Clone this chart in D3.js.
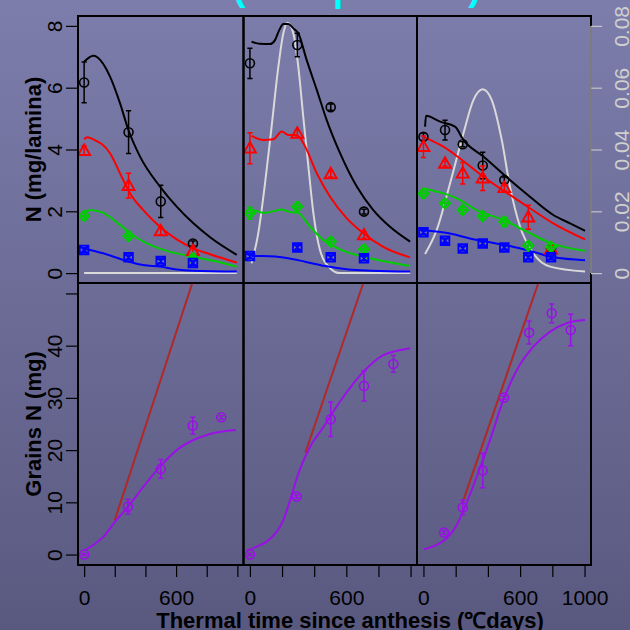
<!DOCTYPE html>
<html>
<head>
<meta charset="utf-8">
<script src="https://cdn.jsdelivr.net/npm/d3@7"></script>
<style>
  body { margin: 0; }
  svg { display: block; font-family: "Liberation Sans", Arial, sans-serif; }
</style>
</head>
<body>
<div class="container"></div>
<script>
// ---- axis ticks ----
const xTicks = [0, 200, 400, 600, 800, 1000];
const xTickLabels = [[0, 600], [0, 600], [0, 600, 1000]];
const nTicks = [0, 2, 4, 6, 8];
const grainTicks = [0, 10, 20, 30, 40, 50];
const grainTickLabels = [0, 10, 20, 30, 40];
const rateTicks = [0, 0.02, 0.04, 0.06, 0.08];

// ---- top row: observed N per lamina (mean, error) ----
const topTimeA = [0, 290, 500, 710];
const lam1A = [6.17, 4.56, 2.32, 0.96], lam1ErrA = [0.66, 0.69, 0.52, 0.08];
const lam2A = [3.96, 2.83, 1.36, 0.72], lam2ErrA = [0.15, 0.4, 0.12, 0.1];
const lam3A = [1.85, 1.2, null, 0.49], lam3ErrA = [0.12, 0.12, null, 0.08];
const lam4A = [0.75, 0.51, 0.39, 0.33], lam4ErrA = [0.08, 0.08, 0.08, 0.08];

const topTimeB = [0, 295, 503, 710];
const lam1B = [6.79, 7.38, 5.37, 1.99], lam1ErrB = [0.49, 0.38, 0.1, 0.08];
const lam2B = [4.04, 4.52, 3.21, 1.23], lam2ErrB = [0.5, 0.12, 0.1, 0.1];
const lam3B = [1.94, 2.15, 1.02, 0.77], lam3ErrB = [0.2, 0.15, 0.1, 0.1];
const lam4B = [0.55, 0.83, 0.51, 0.48], lam4ErrB = [0.08, 0.1, 0.08, 0.08];

const topTimeC = [0, 134, 244, 368, 502, 651, 792];
const lam1C = [4.41, 4.63, 4.17, 3.48, 3.01, null, 0.8], lam1ErrC = [0.12, 0.32, 0.08, 0.43, 0.1, null, 0.08];
const lam2C = [4.09, 3.55, 3.23, 3.07, 2.76, 1.81, 0.77], lam2ErrC = [0.35, 0.08, 0.35, 0.4, 0.1, 0.39, 0.08];
const lam3C = [2.58, 2.26, 2.04, 1.85, 1.66, 0.89, 0.85], lam3ErrC = [0.15, 0.12, 0.12, 0.12, 0.15, 0.1, 0.1];
const lam4C = [1.32, 1.05, 0.8, 0.96, 0.83, 0.51, 0.51], lam4ErrC = [0.08, 0.08, 0.08, 0.08, 0.08, 0.08, 0.08];

// ---- top row: simulated curves [time, N] ----
const fit1A = [[0, 6.84], [60, 7.03], [169, 6.36], [234, 5.5], [289, 4.63], [365, 3.77], [495, 2.8], [604, 2.15], [713, 1.61], [822, 1.16], [996, 0.59]];
const fit2A = [[0, 4.33], [20, 4.4], [60, 4.33], [169, 3.88], [245, 3.12], [300, 2.58], [386, 2.04], [495, 1.5], [604, 1.09], [713, 0.8], [822, 0.61], [996, 0.34]];
const fit3A = [[0, 1.94], [38, 2.04], [125, 1.95], [234, 1.56], [300, 1.29], [409, 0.96], [539, 0.72], [713, 0.53], [843, 0.4], [996, 0.21]];
const fit4A = [[0, 0.8], [125, 0.64], [278, 0.39], [386, 0.26], [495, 0.21], [604, 0.12], [713, 0.08], [996, 0.05]];
const rateA = [[0, 0], [500, 0], [996, 0]];

const fit1B = [[10, 7.49], [60, 7.42], [125, 7.41], [156, 7.54], [183, 7.87], [208, 8.06], [239, 8.06], [270, 7.92], [301, 7.76], [353, 6.9], [416, 5.93], [478, 4.95], [561, 3.88], [665, 2.8], [768, 2.04], [872, 1.5], [997, 1.02]];
const fit2B = [[10, 4.44], [84, 4.31], [146, 4.33], [198, 4.58], [239, 4.47], [291, 4.47], [333, 4.2], [416, 3.23], [499, 2.47], [603, 1.77], [706, 1.29], [830, 0.85], [997, 0.51]];
const fit3B = [[10, 2.06], [93, 1.95], [198, 2.06], [239, 1.99], [301, 1.94], [374, 1.5], [457, 1.07], [561, 0.77], [706, 0.53], [851, 0.37], [997, 0.23]];
const fit4B = [[10, 0.55], [84, 0.55], [239, 0.48], [343, 0.37], [468, 0.23], [613, 0.12], [758, 0.08], [997, 0.05]];
const rateB = [[10, 0.0032], [52, 0.0129], [94, 0.029], [135, 0.0474], [177, 0.0668], [208, 0.0776], [235, 0.081], [270, 0.0776], [301, 0.0668], [332, 0.0506], [364, 0.0344], [395, 0.0194], [436, 0.0075], [499, 0.0016], [561, 0], [997, 0]];

const fit1C = [[10, 4.74], [16, 5.09], [103, 4.9], [196, 4.74], [248, 4.31], [372, 3.77], [537, 3.01], [661, 2.47], [806, 1.88], [910, 1.61], [1003, 1.37]];
const fit2C = [[0, 4.41], [124, 4.09], [227, 3.71], [372, 3.12], [537, 2.53], [661, 2.1], [806, 1.61], [1003, 1.09]];
const fit3C = [[0, 2.74], [124, 2.58], [207, 2.42], [331, 2.04], [496, 1.72], [641, 1.34], [786, 0.98], [1003, 0.72]];
const fit4C = [[0, 1.39], [158, 1.29], [282, 1.13], [386, 1.02], [537, 0.88], [682, 0.69], [806, 0.51], [1003, 0.42]];
const rateC = [[10, 0.0062], [82, 0.0139], [165, 0.029], [248, 0.0452], [310, 0.056], [368, 0.0595], [424, 0.056], [486, 0.0431], [537, 0.028], [600, 0.015], [682, 0.0064], [786, 0.0021], [1003, 0.0005]];

// ---- bottom row: grains N ----
const grainTimeA = [0, 286, 500, 709, 895];
const grainA = [0, 9.17, 16.4, 24.7, 26.3], grainErrA = [0.2, 1.4, 1.8, 1.6, 0.3];
const grainTimeB = [0, 291, 503, 710, 893];
const grainB = [0, 11.1, 25.9, 32.3, 36.5], grainErrB = [0.2, 0.3, 3.3, 2.9, 1.6];
const grainTimeC = [128, 244, 368, 500, 656, 796, 914];
const grainC = [4.2, 9.0, 16.1, 30.05, 42.5, 46.2, 43.0], grainErrC = [0.3, 1.4, 3.3, 0.3, 2.2, 1.8, 3.0];

const grainFitA = [[0, 0.8], [60, 1.84], [126, 3.43], [202, 6.3], [278, 8.87], [387, 13], [495, 16.83], [604, 20], [713, 21.94], [822, 23.1], [991, 23.86]];
const grainFitB = [[-20, 0.75], [42, 1.51], [104, 2.47], [167, 4.38], [208, 6.6], [250, 10.4], [301, 15.5], [374, 20.6], [457, 24.4], [561, 29.3], [706, 35], [830, 38.2], [914, 39], [997, 39.5]];
const grainFitC = [[4, 1.02], [82, 1.84], [144, 3.12], [207, 5.67], [258, 9.17], [331, 14.9], [413, 21.9], [496, 29.6], [579, 35.3], [682, 39.8], [786, 42.7], [889, 44.3], [1003, 44.9]];

const potentialA = [[200, 6.6], [706, 52]];
const potentialB = [[345, 19.5], [706, 52]];
const potentialC = [[240, 9.7], [713, 52]];

const lamColors = ['#000000', '#ff0000', '#00cd00', '#0000ff'];
const lamShapes = ['circle', 'triangle', 'diamondPlus', 'squareX'];

// tables built from the arrays above
const topPanels = [
  { time: topTimeA, obs: [[lam1A, lam1ErrA], [lam2A, lam2ErrA], [lam3A, lam3ErrA], [lam4A, lam4ErrA]], fits: [fit1A, fit2A, fit3A, fit4A], rate: rateA },
  { time: topTimeB, obs: [[lam1B, lam1ErrB], [lam2B, lam2ErrB], [lam3B, lam3ErrB], [lam4B, lam4ErrB]], fits: [fit1B, fit2B, fit3B, fit4B], rate: rateB },
  { time: topTimeC, obs: [[lam1C, lam1ErrC], [lam2C, lam2ErrC], [lam3C, lam3ErrC], [lam4C, lam4ErrC]], fits: [fit1C, fit2C, fit3C, fit4C], rate: rateC }
];
const botPanels = [
  { time: grainTimeA, val: grainA, err: grainErrA, fit: grainFitA, pot: potentialA },
  { time: grainTimeB, val: grainB, err: grainErrB, fit: grainFitB, pot: potentialB },
  { time: grainTimeC, val: grainC, err: grainErrC, fit: grainFitC, pot: potentialC }
];

const w = 630, h = 630;
const cols = [[78, 243.5], [243.5, 417], [417, 591]];
const topRow = [16, 283], botRow = [283, 565];

const xs = cols.map((r) => d3.scaleLinear().domain([-40, 1040]).range(r));
const yN = d3.scaleLinear().domain([-0.32, 8.32]).range([topRow[1], topRow[0]]);
const yRate = d3.scaleLinear().domain([-0.0032, 0.0832]).range([topRow[1], topRow[0]]);
const yG = d3.scaleLinear().domain([-2, 52]).range([botRow[1], botRow[0]]);

const svg = d3.select('.container').append('svg')
  .attr('width', w).attr('height', h);

// background gradient
const defs = svg.append('defs');
const grad = defs.append('linearGradient').attr('id', 'bg')
  .attr('x1', 0).attr('y1', 0).attr('x2', 0).attr('y2', 1);
grad.append('stop').attr('offset', 0).attr('stop-color', '#7d7dac');
grad.append('stop').attr('offset', 1).attr('stop-color', '#595980');
svg.append('rect').attr('width', w).attr('height', h).attr('fill', 'url(#bg)');

// title sits above the picture; only its descenders show
const title = svg.append('text').attr('y', 0)
  .attr('fill', '#00ffff').style('font-size', '38px').style('font-weight', 'bold');
title.append('tspan').attr('x', 233).attr('text-anchor', 'start').text('(Leaf');
title.append('tspan').attr('x', 338).attr('text-anchor', 'middle').text('|');
title.append('tspan').attr('x', 481).attr('text-anchor', 'end').text('Grain)');

// clip paths for every cell
cols.forEach((c, i) => {
  [topRow, botRow].forEach((r, j) => {
    defs.append('clipPath').attr('id', `clip${i}${j}`)
      .append('rect').attr('x', c[0]).attr('y', r[0])
      .attr('width', c[1] - c[0]).attr('height', r[1] - r[0]);
  });
});

function marker(g, shape, x, y, color) {
  const s = 5.2;
  if (shape === 'circle') {
    g.append('circle').attr('cx', x).attr('cy', y).attr('r', 4.5)
      .attr('fill', 'none').attr('stroke', color).attr('stroke-width', 1.6);
    return;
  }
  let d;
  if (shape === 'triangle') {
    d = `M${x},${y - 6.2}L${x + 6},${y + 4.3}L${x - 6},${y + 4.3}Z`;
  } else if (shape === 'diamondPlus') {
    d = `M${x},${y - s}L${x + s},${y}L${x},${y + s}L${x - s},${y}Z` +
      `M${x - s},${y}L${x + s},${y}M${x},${y - s}L${x},${y + s}`;
  } else {
    const q = 4.3;
    d = `M${x - q},${y - q}h${2 * q}v${2 * q}h${-2 * q}Z` +
      `M${x - q},${y - q}L${x + q},${y + q}M${x + q},${y - q}L${x - q},${y + q}`;
  }
  g.append('path').attr('d', d).attr('fill', 'none')
    .attr('stroke', color).attr('stroke-width', 1.9);
}

function errorBar(g, x, y0, y1, color) {
  const cap = 2.6;
  g.append('path')
    .attr('d', `M${x},${y0}L${x},${y1}M${x - cap},${y0}L${x + cap},${y0}M${x - cap},${y1}L${x + cap},${y1}`)
    .attr('stroke', color).attr('stroke-width', 1.5).attr('fill', 'none');
}

// ---- top row ----
topPanels.forEach((p, i) => {
  const x = xs[i];
  const g = svg.append('g');
  const lines = g.append('g').attr('clip-path', `url(#clip${i}0)`);
  lines.append('path')
    .datum(p.rate)
    .attr('d', d3.line().x((d) => x(d[0])).y((d) => yRate(d[1])).curve(d3.curveMonotoneX))
    .attr('fill', 'none').attr('stroke', '#d9d9d9').attr('stroke-width', 2);
  p.fits.forEach((f, k) => {
    lines.append('path')
      .datum(f)
      .attr('d', d3.line().x((d) => x(d[0])).y((d) => yN(d[1])).curve(d3.curveMonotoneX))
      .attr('fill', 'none').attr('stroke', lamColors[k]).attr('stroke-width', 2);
  });
  p.obs.forEach((o, k) => {
    const [vals, errs] = o;
    vals.forEach((v, m) => {
      if (v === null) return;
      const cx = x(p.time[m]);
      errorBar(g, cx, yN(v - errs[m]), yN(v + errs[m]), lamColors[k]);
      marker(g, lamShapes[k], cx, yN(v), lamColors[k]);
    });
  });
});

// ---- bottom row ----
botPanels.forEach((p, i) => {
  const x = xs[i];
  const g = svg.append('g');
  const lines = g.append('g').attr('clip-path', `url(#clip${i}1)`);
  lines.append('path')
    .datum(p.pot)
    .attr('d', d3.line().x((d) => x(d[0])).y((d) => yG(d[1])))
    .attr('fill', 'none').attr('stroke', '#b02828').attr('stroke-width', 2);
  lines.append('path')
    .datum(p.fit)
    .attr('d', d3.line().x((d) => x(d[0])).y((d) => yG(d[1])).curve(d3.curveMonotoneX))
    .attr('fill', 'none').attr('stroke', '#9a10e6').attr('stroke-width', 2);
  p.val.forEach((v, m) => {
    const cx = x(p.time[m]);
    errorBar(g, cx, yG(v - p.err[m]), yG(v + p.err[m]), '#9a10e6');
    marker(g, 'circle', cx, yG(v), '#9a10e6');
  });
});

// ---- panel boxes ----
cols.forEach((c) => {
  [topRow, botRow].forEach((r) => {
    svg.append('rect').attr('x', c[0]).attr('y', r[0])
      .attr('width', c[1] - c[0]).attr('height', r[1] - r[0])
      .attr('fill', 'none').attr('stroke', '#000').attr('stroke-width', 2);
  });
});

// ---- axes ----
function styleAxis(g, color) {
  g.select('.domain').remove();
  g.selectAll('.tick line').attr('stroke', color).attr('stroke-width', 1.2);
  g.selectAll('.tick text').attr('fill', color).style('font-size', '21px');
}

xs.forEach((x, i) => {
  const ax = svg.append('g')
    .attr('transform', `translate(0,${botRow[1]})`)
    .call(d3.axisBottom(x).tickValues(xTicks).tickSize(12).tickPadding(13)
      .tickFormat((d) => (xTickLabels[i].includes(d) ? d : '')));
  styleAxis(ax, '#000');
});

const leftTop = svg.append('g')
  .attr('transform', `translate(${cols[0][0]},0)`)
  .call(d3.axisLeft(yN).tickValues(nTicks).tickSize(12).tickFormat(d3.format('d')));
const leftBot = svg.append('g')
  .attr('transform', `translate(${cols[0][0]},0)`)
  .call(d3.axisLeft(yG).tickValues(grainTicks).tickSize(12)
    .tickFormat((d) => (grainTickLabels.includes(d) ? d : '')));
[leftTop, leftBot].forEach((ax) => {
  styleAxis(ax, '#000');
  ax.selectAll('.tick text').attr('x', null).attr('dy', null)
    .attr('text-anchor', 'middle').attr('transform', 'translate(-16,0) rotate(-90)');
});

const right = svg.append('g')
  .attr('transform', `translate(${cols[2][1]},0)`)
  .call(d3.axisRight(yRate).tickValues(rateTicks).tickSize(11).tickFormat((d) => (d === 0 ? '0' : d.toFixed(2))));
right.select('.domain').remove();
right.append('line').attr('x1', 0).attr('x2', 0)
  .attr('y1', yRate(0)).attr('y2', yRate(0.08))
  .attr('stroke', '#a6a6a6').attr('stroke-width', 1.5);
right.selectAll('.tick line').attr('stroke', '#c4c4c4').attr('stroke-width', 1.2);
right.selectAll('.tick text').attr('fill', '#cfcfcf').style('font-size', '21px')
  .attr('x', null).attr('dy', null).attr('text-anchor', 'middle')
  .attr('transform', 'translate(38,0) rotate(-90)');

// ---- axis titles ----
svg.append('text')
  .attr('transform', `translate(41,${(topRow[0] + topRow[1]) / 2}) rotate(-90)`)
  .attr('text-anchor', 'middle').style('font-size', '22px').style('font-weight', 'bold')
  .text('N (mg/lamina)');
svg.append('text')
  .attr('transform', `translate(41,${(botRow[0] + botRow[1]) / 2}) rotate(-90)`)
  .attr('text-anchor', 'middle').style('font-size', '22px').style('font-weight', 'bold')
  .text('Grains N (mg)');
svg.append('text')
  .attr('x', 350).attr('y', 627.5)
  .attr('text-anchor', 'middle').style('font-size', '22px').style('font-weight', 'bold')
  .text('Thermal time since anthesis (℃days)');
</script>
</body>
</html>
